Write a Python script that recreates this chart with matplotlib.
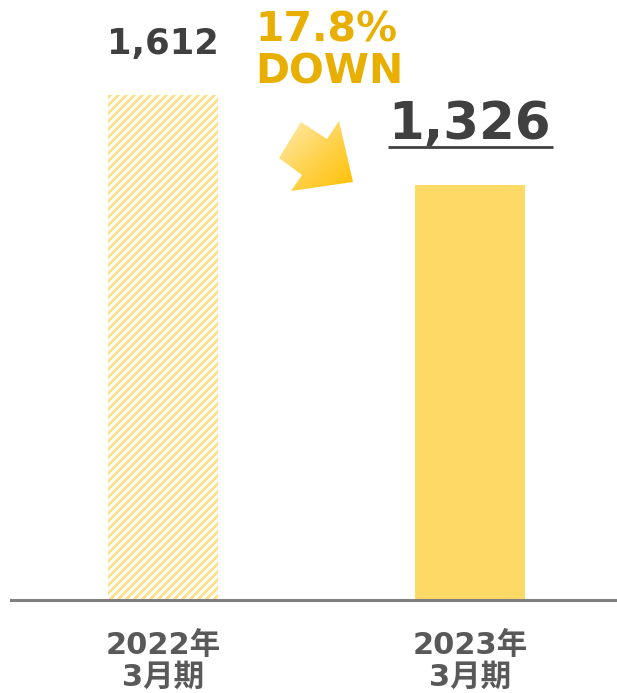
import matplotlib
matplotlib.use("Agg")
import matplotlib.pyplot as plt
import numpy as np
from matplotlib.patches import Polygon
from matplotlib.colors import LinearSegmentedColormap, ListedColormap

# Data
periods = ["2022年\n3月期", "2023年\n3月期"]
values = [1612, 1326]
change_label = "17.8%\nDOWN"

FONT = ["DejaVu Sans", "Noto Sans CJK JP"]
plt.rcParams["font.family"] = FONT
plt.rcParams["font.weight"] = "bold"

W, H, DPI = 617, 693, 100
fig = plt.figure(figsize=(W / DPI, H / DPI), dpi=DPI)

# Main axes: bottom on the baseline, scale chosen so the tallest bar sits near the top
base_px = 600
left_px = 11
ax = fig.add_axes([left_px / W, (H - base_px) / H, (W - left_px) / W, base_px / H])
px_per_unit = 505 / values[0]
ax.set_ylim(0, base_px / px_per_unit)
ax.set_xlim(-152 / 307, (W - left_px - 152) / 307)

bar_w = 110 / 307
x = np.arange(len(values))

# previous year: striped, current year: solid
prev = ax.bar(x[0], values[0], width=bar_w, color="none", linewidth=0, zorder=2)[0]
ax.bar(x[1], values[1], width=bar_w, color="#FFD966", linewidth=0, zorder=2)

# diagonal stripe fill for the previous-year bar, one array cell per screen pixel
nw = int(round(bar_w * 307))
nh = int(round(values[0] * px_per_unit))
rr, cc = np.mgrid[0:nh, 0:nw]
stripes = (((rr + cc) % 8) < 4).astype(float)
stripe_cmap = ListedColormap(["#FFFFFF", "#FFE38C"])
sim = ax.imshow(stripes, extent=(prev.get_x(), prev.get_x() + prev.get_width(),
                                 0, prev.get_height()),
                cmap=stripe_cmap, origin="upper", aspect="auto",
                interpolation="nearest", zorder=2)
sim.set_clip_path(prev)
ax.set_xlim(-152 / 307, (W - left_px - 152) / 307)
ax.set_ylim(0, base_px / px_per_unit)

for s in ["top", "right", "left"]:
    ax.spines[s].set_visible(False)
ax.spines["bottom"].set_color("#808080")
ax.spines["bottom"].set_linewidth(2.2)
ax.set_yticks([])
ax.set_xticks(x)
ax.set_xticklabels(periods, fontsize=22, color="#595959", fontweight="bold",
                   linespacing=1.15)
ax.tick_params(axis="x", length=0, pad=22)

# value labels
ax.annotate(f"{values[0]:,}", (x[0], values[0]), xytext=(0, 41),
            textcoords="offset pixels", ha="center", va="baseline",
            fontsize=25.5, color="#404040", fontweight="bold")
t2 = ax.annotate(f"{values[1]:,}", (x[1], values[1]), xytext=(0, 46),
                 textcoords="offset pixels", ha="center", va="baseline",
                 fontsize=37, color="#404040", fontweight="bold")

# overlay in pixel coordinates for the decoration
ov = fig.add_axes([0, 0, 1, 1], zorder=5)
ov.set_xlim(0, W)
ov.set_ylim(H, 0)
ov.axis("off")
ov.patch.set_alpha(0)

ov.text(255, 10, change_label, ha="left", va="top", fontsize=29.5,
        color="#E8AF00", fontweight="bold", linespacing=1.08)

# gradient arrow
arrow_pts = [(279, 158), (301, 122), (327, 139), (339, 121),
             (353, 182), (291, 191), (302, 175)]
poly = Polygon(arrow_pts, closed=True, facecolor="none", edgecolor="none")
ov.add_patch(poly)
xs = [p[0] for p in arrow_pts]
ys = [p[1] for p in arrow_pts]
gx, gy = np.meshgrid(np.linspace(0, 1, 200), np.linspace(0, 1, 200))
grad = (gx + gy) / 2
cmap = LinearSegmentedColormap.from_list("gold", ["#FFEBB0", "#FFD350", "#FFC000"])
im = ov.imshow(grad, extent=(min(xs), max(xs), max(ys), min(ys)), cmap=cmap,
               origin="upper", aspect="auto", interpolation="bilinear")
im.set_clip_path(poly)

# underline under the current value
fig.canvas.draw()
bb = t2.get_window_extent()
uy = H - bb.y0 - 3
ov.plot([bb.x0 - 1, bb.x1 + 2], [uy, uy],
        color="#404040", lw=2.0, solid_capstyle="butt")

fig.savefig("out.png", dpi=DPI)
